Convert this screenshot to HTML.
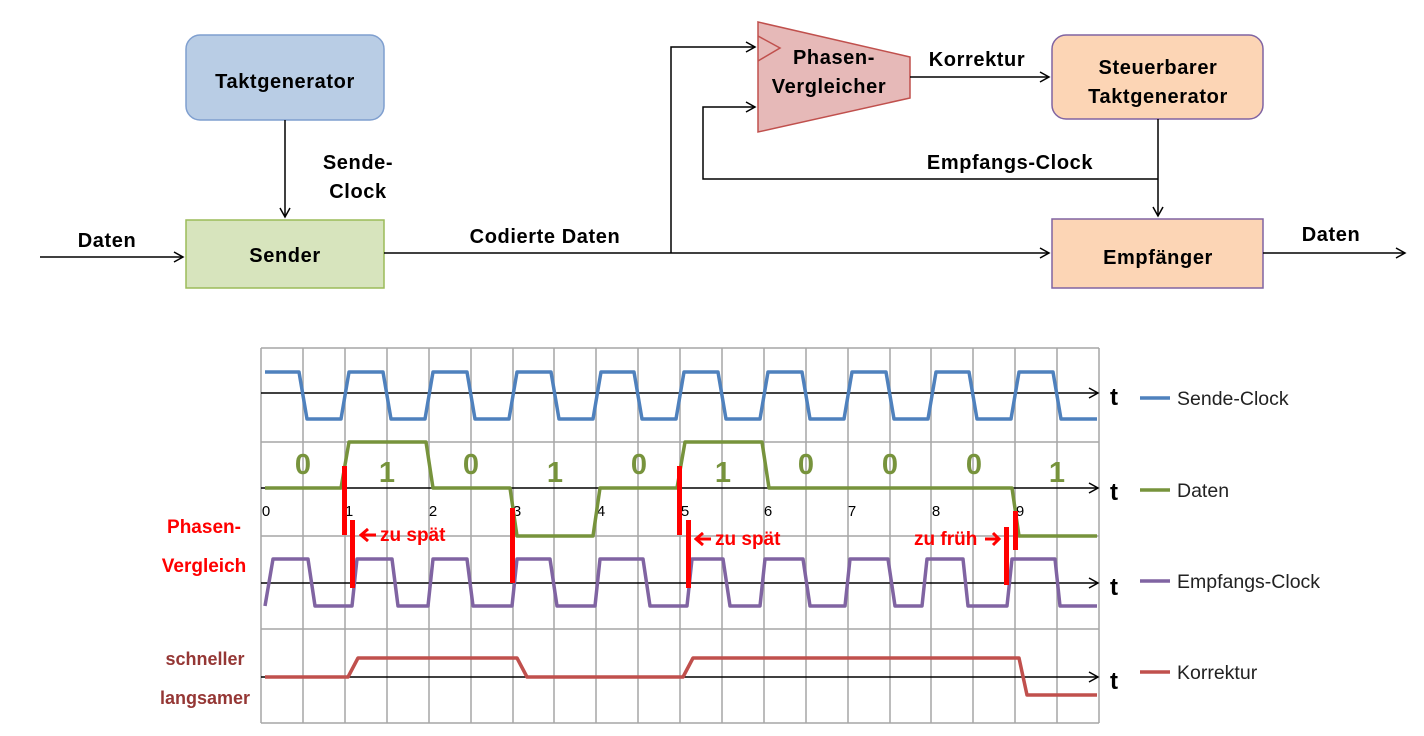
<!DOCTYPE html>
<html><head><meta charset="utf-8"><style>
html,body{margin:0;padding:0;background:#fff;}
svg{display:block;}
text{font-family:"Liberation Sans",sans-serif;}
.b{font-weight:bold;font-size:20px;letter-spacing:0.6px;}
</style></head><body>
<svg width="1424" height="736" viewBox="0 0 1424 736" xmlns="http://www.w3.org/2000/svg">
<defs>
<marker id="ah" markerWidth="12" markerHeight="12" refX="10" refY="6" orient="auto" markerUnits="userSpaceOnUse">
<path d="M1,1 L10,6 L1,11" fill="none" stroke="#000" stroke-width="1.5"/>
</marker>
<marker id="rh" markerWidth="12" markerHeight="14" refX="2" refY="7" orient="auto" markerUnits="userSpaceOnUse">
<path d="M9,1 L2,7 L9,13" fill="none" stroke="#f00" stroke-width="3"/>
</marker>
</defs>
<!-- Block diagram -->
<rect x="186" y="35" width="198" height="85" rx="14" fill="#b9cde5" stroke="#7f9fcf" stroke-width="1.5"/>
<text class="b" x="285" y="88" text-anchor="middle">Taktgenerator</text>
<rect x="186" y="220" width="198" height="68" fill="#d7e4bd" stroke="#9bbb59" stroke-width="1.5"/>
<text class="b" x="285" y="262" text-anchor="middle">Sender</text>
<line x1="285" y1="120" x2="285" y2="217" stroke="#000" stroke-width="1.5" marker-end="url(#ah)"/>
<text class="b" x="358" y="169" text-anchor="middle">Sende-</text>
<text class="b" x="358" y="198" text-anchor="middle">Clock</text>
<text class="b" x="107" y="247" text-anchor="middle">Daten</text>
<line x1="40" y1="257" x2="183" y2="257" stroke="#000" stroke-width="1.5" marker-end="url(#ah)"/>
<text class="b" x="545" y="243" text-anchor="middle">Codierte Daten</text>
<line x1="384" y1="253" x2="1049" y2="253" stroke="#000" stroke-width="1.5" marker-end="url(#ah)"/>
<polyline points="671,253 671,47 755,47" fill="none" stroke="#000" stroke-width="1.5" marker-end="url(#ah)"/>
<polygon points="758,22 910,57 910,98 758,132" fill="#e6b9b8" stroke="#c0504d" stroke-width="1.5"/>
<polyline points="758,36 780,48 758,61" fill="none" stroke="#c0504d" stroke-width="1.5"/>
<text class="b" x="834" y="64" text-anchor="middle">Phasen-</text>
<text class="b" x="829" y="93" text-anchor="middle">Vergleicher</text>
<line x1="910" y1="77" x2="1049" y2="77" stroke="#000" stroke-width="1.5" marker-end="url(#ah)"/>
<text class="b" x="977" y="66" text-anchor="middle">Korrektur</text>
<rect x="1052" y="35" width="211" height="84" rx="14" fill="#fcd5b5" stroke="#8064a2" stroke-width="1.5"/>
<text class="b" x="1158" y="74" text-anchor="middle">Steuerbarer</text>
<text class="b" x="1158" y="103" text-anchor="middle">Taktgenerator</text>
<line x1="1158" y1="119" x2="1158" y2="216" stroke="#000" stroke-width="1.5" marker-end="url(#ah)"/>
<polyline points="1158,179 703,179 703,107 755,107" fill="none" stroke="#000" stroke-width="1.5" marker-end="url(#ah)"/>
<text class="b" x="1010" y="169" text-anchor="middle">Empfangs-Clock</text>
<rect x="1052" y="219" width="211" height="69" fill="#fcd5b5" stroke="#8064a2" stroke-width="1.5"/>
<text class="b" x="1158" y="264" text-anchor="middle">Empfänger</text>
<line x1="1263" y1="253" x2="1405" y2="253" stroke="#000" stroke-width="1.5" marker-end="url(#ah)"/>
<text class="b" x="1331" y="241" text-anchor="middle">Daten</text>

<!-- Timing grid -->
<g stroke="#a6a6a6" stroke-width="1.5">
<line x1="261" y1="348" x2="261" y2="723"/><line x1="303" y1="348" x2="303" y2="723"/><line x1="345" y1="348" x2="345" y2="723"/><line x1="387" y1="348" x2="387" y2="723"/><line x1="429" y1="348" x2="429" y2="723"/><line x1="471" y1="348" x2="471" y2="723"/><line x1="513" y1="348" x2="513" y2="723"/><line x1="554" y1="348" x2="554" y2="723"/><line x1="596" y1="348" x2="596" y2="723"/><line x1="638" y1="348" x2="638" y2="723"/><line x1="680" y1="348" x2="680" y2="723"/><line x1="722" y1="348" x2="722" y2="723"/><line x1="764" y1="348" x2="764" y2="723"/><line x1="806" y1="348" x2="806" y2="723"/><line x1="848" y1="348" x2="848" y2="723"/><line x1="890" y1="348" x2="890" y2="723"/><line x1="931" y1="348" x2="931" y2="723"/><line x1="973" y1="348" x2="973" y2="723"/><line x1="1015" y1="348" x2="1015" y2="723"/><line x1="1057" y1="348" x2="1057" y2="723"/><line x1="1099" y1="348" x2="1099" y2="723"/>
<line x1="261" y1="348" x2="1099" y2="348"/><line x1="261" y1="442" x2="1099" y2="442"/><line x1="261" y1="536" x2="1099" y2="536"/><line x1="261" y1="629" x2="1099" y2="629"/><line x1="261" y1="723" x2="1099" y2="723"/>
</g>
<g stroke="#000" stroke-width="1.5" fill="none">
<line x1="261" y1="393" x2="1098" y2="393" marker-end="url(#ah)"/>
<line x1="261" y1="488" x2="1098" y2="488" marker-end="url(#ah)"/>
<line x1="261" y1="583" x2="1098" y2="583" marker-end="url(#ah)"/>
<line x1="261" y1="677" x2="1098" y2="677" marker-end="url(#ah)"/>
</g>
<g font-size="24" font-weight="bold">
<text x="1110" y="405">t</text><text x="1110" y="500">t</text><text x="1110" y="595">t</text><text x="1110" y="689">t</text>
</g>
<g font-size="15" text-anchor="middle">
<text x="266" y="516">0</text><text x="349" y="516">1</text><text x="433" y="516">2</text><text x="517" y="516">3</text><text x="601" y="516">4</text><text x="685" y="516">5</text><text x="768" y="516">6</text><text x="852" y="516">7</text><text x="936" y="516">8</text><text x="1020" y="516">9</text>
</g>
<g fill="none" stroke-width="3.5" stroke-linejoin="round">
<path stroke="#4f81bd" d="M265 372 H299 L307 419 H341 L349 372 H383 L391 419 H425 L433 372 H467 L475 419 H509 L517 372 H551 L559 419 H593 L601 372 H634 L642 419 H676 L684 372 H718 L726 419 H760 L768 372 H802 L810 419 H844 L852 372 H886 L894 419 H928 L936 372 H969 L977 419 H1011 L1019 372 H1053 L1061 419 H1097"/>
<path stroke="#77933c" d="M265 488 H341 L349 442 H426 L433 488 H510 L517 536 H593 L600 488 H677 L685 442 H762 L769 488 H1012 L1019 536 H1097"/>
<path stroke="#8064a2" d="M265 606 L273 559 H308 L315 606 H352 L357 559 H392 L398 606 H428 L433 559 H467 L473 606 H512 L517 559 H550 L557 606 H595 L600 559 H643 L650 606 H687 L692 559 H723 L730 606 H760 L765 559 H803 L810 606 H845 L850 559 H888 L895 606 H922 L927 559 H963 L968 606 H1007 L1012 559 H1055 L1060 606 H1097"/>
<path stroke="#c0504d" d="M265 677 H348 L358 658 H517 L527 677 H683 L693 658 H1019 L1027 695 H1097"/>
</g>
<g font-size="29" font-weight="bold" fill="#77933c" text-anchor="middle">
<text x="303" y="474">0</text><text x="387" y="482">1</text><text x="471" y="474">0</text><text x="555" y="482">1</text><text x="639" y="474">0</text><text x="723" y="482">1</text><text x="806" y="474">0</text><text x="890" y="474">0</text><text x="974" y="474">0</text><text x="1057" y="482">1</text>
</g>
<g fill="#ff0000">
<rect x="342" y="466" width="5" height="69"/>
<rect x="350" y="520" width="5" height="68"/>
<rect x="510" y="508" width="5" height="75"/>
<rect x="677" y="466" width="5" height="69"/>
<rect x="686" y="520" width="5" height="68"/>
<rect x="1004" y="527" width="5" height="58"/>
<rect x="1013" y="511" width="5" height="39"/>
</g>
<g stroke="#ff0000" stroke-width="3" fill="none">
<line x1="361" y1="535" x2="376" y2="535" marker-start="url(#rh)"/>
<line x1="696" y1="539" x2="711" y2="539" marker-start="url(#rh)"/>
<line x1="985" y1="539" x2="999" y2="539"/>
<path d="M993,533 L999,539 L993,545"/>
</g>
<g font-size="19" font-weight="bold" fill="#ff0000">
<text x="380" y="541">zu spät</text>
<text x="715" y="545">zu spät</text>
<text x="914" y="545">zu früh</text>
<text x="204" y="533" text-anchor="middle">Phasen-</text>
<text x="204" y="572" text-anchor="middle">Vergleich</text>
</g>
<g font-size="18" font-weight="bold" fill="#953735" text-anchor="middle">
<text x="205" y="665">schneller</text>
<text x="205" y="704">langsamer</text>
</g>
<!-- Legend -->
<g stroke-width="3.5">
<line x1="1140" y1="398" x2="1170" y2="398" stroke="#4f81bd"/>
<line x1="1140" y1="490" x2="1170" y2="490" stroke="#77933c"/>
<line x1="1140" y1="581" x2="1170" y2="581" stroke="#8064a2"/>
<line x1="1140" y1="672" x2="1170" y2="672" stroke="#c0504d"/>
</g>
<g font-size="19.5" fill="#222">
<text x="1177" y="405">Sende-Clock</text>
<text x="1177" y="497">Daten</text>
<text x="1177" y="588">Empfangs-Clock</text>
<text x="1177" y="679">Korrektur</text>
</g>
</svg>
</body></html>
